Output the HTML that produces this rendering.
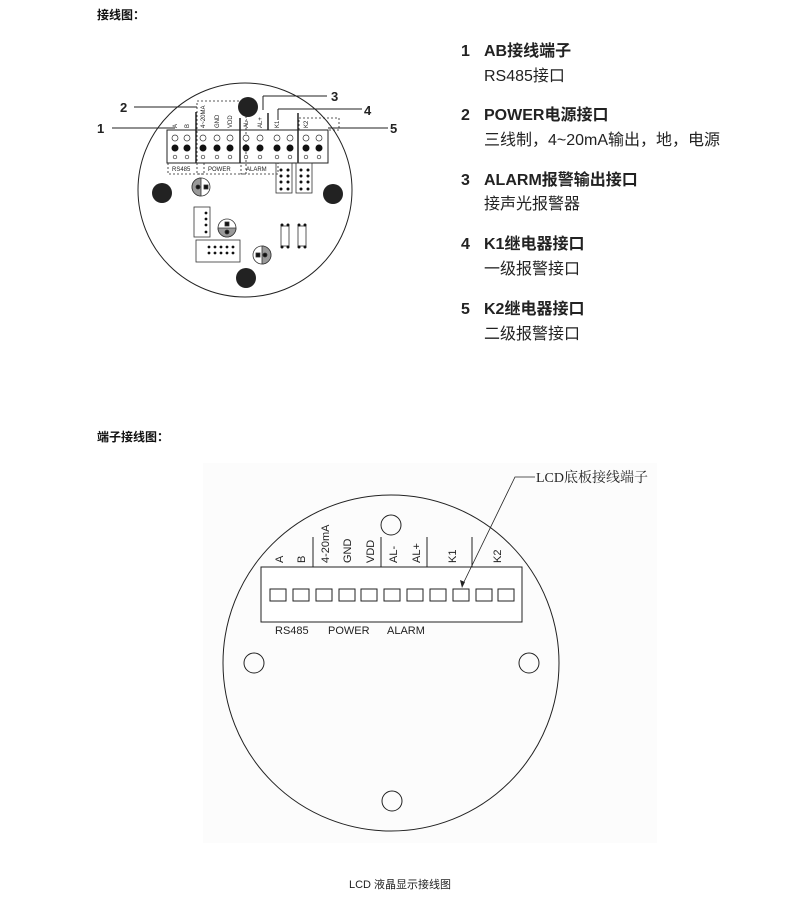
<!DOCTYPE html>
<html><head><meta charset="utf-8"><style>
body{margin:0;background:#fff;}
svg{display:block}
.h{font-family:"Liberation Sans","Noto Sans CJK SC",sans-serif;}
</style></head><body>
<svg width="800" height="904" viewBox="0 0 800 904" xmlns="http://www.w3.org/2000/svg" class="h">
<text x="97" y="19" font-size="12" font-weight="bold" fill="#111">接线图：</text>
<text x="97" y="441" font-size="12" font-weight="bold" fill="#111">端子接线图：</text>

<!-- right text list -->
<g font-size="16" fill="#222">
<text x="461" y="56" font-weight="bold">1</text><text x="484" y="56" font-weight="bold">AB接线端子</text>
<text x="484" y="81">RS485接口</text>
<text x="461" y="120" font-weight="bold">2</text><text x="484" y="120" font-weight="bold">POWER电源接口</text>
<text x="484" y="145">三线制，4~20mA输出，地，电源</text>
<text x="461" y="185" font-weight="bold">3</text><text x="484" y="185" font-weight="bold">ALARM报警输出接口</text>
<text x="484" y="209">接声光报警器</text>
<text x="461" y="249" font-weight="bold">4</text><text x="484" y="249" font-weight="bold">K1继电器接口</text>
<text x="484" y="274">一级报警接口</text>
<text x="461" y="314" font-weight="bold">5</text><text x="484" y="314" font-weight="bold">K2继电器接口</text>
<text x="484" y="339">二级报警接口</text>
</g>

<!-- top diagram -->
<g stroke="#222" fill="none">
<circle cx="245" cy="190" r="107" stroke-width="1"/>
<rect x="167" y="130" width="161" height="33" stroke-width="1"/>
<g stroke-dasharray="2,2" stroke-width="0.8">
<rect x="168" y="163" width="36" height="11"/>
<rect x="197" y="101" width="49" height="73"/>
<rect x="241" y="163" width="37" height="11"/>
<rect x="299" y="118" width="40" height="12"/>
</g>
<g stroke-width="1.5"><line x1="196" y1="112" x2="196" y2="163"/><line x1="240" y1="118" x2="240" y2="163"/><line x1="268" y1="113" x2="268" y2="130"/><line x1="298" y1="113" x2="298" y2="163"/></g>
<g stroke-width="1">
<line x1="112" y1="128" x2="175" y2="128"/>
<line x1="134" y1="107" x2="197" y2="107"/>
<line x1="263" y1="110" x2="263" y2="96"/><line x1="263" y1="96" x2="327" y2="96"/>
<line x1="278" y1="120" x2="278" y2="109"/><line x1="278" y1="109" x2="362" y2="109"/>
<line x1="328" y1="128" x2="388" y2="128"/>
</g>
</g>
<g font-size="13" font-weight="bold" fill="#222">
<text x="97" y="133">1</text><text x="120" y="112">2</text><text x="331" y="101">3</text><text x="364" y="115">4</text><text x="390" y="133">5</text>
</g>
<g fill="#222">
<circle cx="248" cy="107" r="10"/><circle cx="162" cy="193" r="10"/><circle cx="333" cy="194" r="10"/><circle cx="246" cy="278" r="10"/>
</g>
<g id="cols">
<g fill="#fff" stroke="#333" stroke-width="0.7">
<circle cx="175" cy="138" r="3"/><circle cx="187" cy="138" r="3"/><circle cx="203" cy="138" r="3"/><circle cx="217" cy="138" r="3"/><circle cx="230" cy="138" r="3"/><circle cx="246" cy="138" r="3"/><circle cx="260" cy="138" r="3"/><circle cx="277" cy="138" r="3"/><circle cx="290" cy="138" r="3"/><circle cx="306" cy="138" r="3"/><circle cx="319" cy="138" r="3"/>
<circle cx="175" cy="157" r="1.8"/><circle cx="187" cy="157" r="1.8"/><circle cx="203" cy="157" r="1.8"/><circle cx="217" cy="157" r="1.8"/><circle cx="230" cy="157" r="1.8"/><circle cx="246" cy="157" r="1.8"/><circle cx="260" cy="157" r="1.8"/><circle cx="277" cy="157" r="1.8"/><circle cx="290" cy="157" r="1.8"/><circle cx="306" cy="157" r="1.8"/><circle cx="319" cy="157" r="1.8"/>
</g>
<g fill="#111">
<circle cx="175" cy="148" r="3.5"/><circle cx="187" cy="148" r="3.5"/><circle cx="203" cy="148" r="3.5"/><circle cx="217" cy="148" r="3.5"/><circle cx="230" cy="148" r="3.5"/><circle cx="246" cy="148" r="3.5"/><circle cx="260" cy="148" r="3.5"/><circle cx="277" cy="148" r="3.5"/><circle cx="290" cy="148" r="3.5"/><circle cx="306" cy="148" r="3.5"/><circle cx="319" cy="148" r="3.5"/>
</g>
</g>
<g font-size="6" fill="#222">
<text x="172" y="171">RS485</text><text x="208" y="171">POWER</text><text x="246" y="171">ALARM</text>
<g transform="rotate(-90)">
<text x="-128" y="177">A</text><text x="-128" y="189">B</text><text x="-128" y="205">4~20MA</text><text x="-128" y="219">GND</text><text x="-128" y="232">VDD</text><text x="-128" y="248">AL-</text><text x="-128" y="262">AL+</text><text x="-128" y="279">K1</text><text x="-128" y="308">K2</text>
</g>
</g>
<!-- relay blocks -->
<g stroke="#333" fill="none" stroke-width="0.8"><rect x="276" y="163" width="16" height="30"/><rect x="296" y="163" width="16" height="30"/>
<rect x="194" y="207" width="16" height="30"/><rect x="196" y="240" width="44" height="22"/>
<rect x="281" y="226" width="8" height="20"/><rect x="298" y="226" width="8" height="20"/></g>
<g fill="#111">
<circle cx="281" cy="170" r="1.5"/><circle cx="288" cy="170" r="1.5"/><circle cx="281" cy="176" r="1.5"/><circle cx="288" cy="176" r="1.5"/><circle cx="281" cy="182" r="1.5"/><circle cx="288" cy="182" r="1.5"/><circle cx="281" cy="189" r="1.5"/><circle cx="288" cy="189" r="1.5"/>
<circle cx="301" cy="170" r="1.5"/><circle cx="308" cy="170" r="1.5"/><circle cx="301" cy="176" r="1.5"/><circle cx="308" cy="176" r="1.5"/><circle cx="301" cy="182" r="1.5"/><circle cx="308" cy="182" r="1.5"/><circle cx="301" cy="189" r="1.5"/><circle cx="308" cy="189" r="1.5"/>
<circle cx="206" cy="213" r="1.4"/><circle cx="206" cy="219" r="1.4"/><circle cx="206" cy="225" r="1.4"/><circle cx="206" cy="232" r="1.4"/>
<circle cx="209" cy="247" r="1.4"/><circle cx="215" cy="247" r="1.4"/><circle cx="221" cy="247" r="1.4"/><circle cx="227" cy="247" r="1.4"/><circle cx="233" cy="247" r="1.4"/>
<circle cx="209" cy="253" r="1.4"/><circle cx="215" cy="253" r="1.4"/><circle cx="221" cy="253" r="1.4"/><circle cx="227" cy="253" r="1.4"/><circle cx="233" cy="253" r="1.4"/>
<circle cx="282" cy="225" r="1.5"/><circle cx="288" cy="225" r="1.5"/><circle cx="282" cy="247" r="1.5"/><circle cx="288" cy="247" r="1.5"/>
<circle cx="299" cy="225" r="1.5"/><circle cx="305" cy="225" r="1.5"/><circle cx="299" cy="247" r="1.5"/><circle cx="305" cy="247" r="1.5"/>
</g>
<g stroke="#333" stroke-width="0.8">
<circle cx="201" cy="187" r="9" fill="#fff"/><path d="M201 178 A9 9 0 0 0 201 196 Z" fill="#999"/><rect x="204" y="185" width="4" height="4" fill="#111"/><circle cx="198" cy="187" r="2" fill="#111"/>
<circle cx="227" cy="228" r="9" fill="#fff"/><path d="M218 228 A9 9 0 0 0 236 228 Z" fill="#999"/><rect x="225" y="222" width="4" height="4" fill="#111"/><circle cx="227" cy="232" r="2" fill="#111"/>
<circle cx="262" cy="255" r="9" fill="#fff"/><path d="M262 246 A9 9 0 0 1 262 264 Z" fill="#999"/><rect x="256" y="253" width="4" height="4" fill="#111"/><circle cx="265" cy="255" r="2" fill="#111"/>
</g>

<!-- bottom diagram -->
<rect x="203" y="463" width="454" height="380" fill="#fcfcfc"/>
<g stroke="#222" fill="none" stroke-width="1">
<circle cx="391" cy="663" r="168"/>
<circle cx="391" cy="525" r="10"/><circle cx="254" cy="663" r="10"/><circle cx="529" cy="663" r="10"/><circle cx="392" cy="801" r="10"/>
<rect x="261" y="567" width="261" height="55" fill="#fff"/>
<line x1="313" y1="537" x2="313" y2="567"/><line x1="381" y1="537" x2="381" y2="567"/><line x1="427" y1="537" x2="427" y2="567"/><line x1="472" y1="537" x2="472" y2="567"/>
<rect x="270" y="589" width="16" height="12"/><rect x="293" y="589" width="16" height="12"/><rect x="316" y="589" width="16" height="12"/><rect x="339" y="589" width="16" height="12"/><rect x="361" y="589" width="16" height="12"/><rect x="384" y="589" width="16" height="12"/><rect x="407" y="589" width="16" height="12"/><rect x="430" y="589" width="16" height="12"/><rect x="453" y="589" width="16" height="12"/><rect x="476" y="589" width="16" height="12"/><rect x="498" y="589" width="16" height="12"/>
<polyline points="535,477 515,477 462,586" stroke-width="0.8"/>
</g>
<path d="M462 588 L460 580 L465 582 Z" fill="#222"/>
<text x="536" y="482" font-family="'Liberation Serif','Noto Serif CJK SC',serif" font-size="14" fill="#222">LCD底板接线端子</text>
<g font-size="11" fill="#222">
<g transform="rotate(-90)">
<text x="-563" y="283">A</text><text x="-563" y="305">B</text><text x="-563" y="329">4-20mA</text><text x="-563" y="351">GND</text><text x="-563" y="374">VDD</text><text x="-563" y="397">AL-</text><text x="-563" y="420">AL+</text><text x="-563" y="456">K1</text><text x="-563" y="501">K2</text>
</g>
<text x="275" y="634">RS485</text><text x="328" y="634">POWER</text><text x="387" y="634">ALARM</text>
</g>
<text x="400" y="888" font-size="11" text-anchor="middle" fill="#222">LCD 液晶显示接线图</text>
</svg>
</body></html>
